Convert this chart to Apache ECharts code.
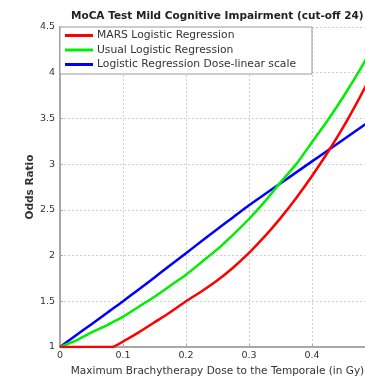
<!DOCTYPE html>
<html>
<head>
<meta charset="utf-8">
<script src="https://cdn.jsdelivr.net/npm/echarts@6/dist/echarts.min.js"></script>
<style>
  html, body { margin: 0; padding: 0; background: #fff; }
  #chart { width: 365px; height: 380px; }
</style>
</head>
<body>
<div id="chart"></div>
<script>
// Dose (Gy) sample points shared by all three curves
const doses = [0, 0.025, 0.05, 0.075, 0.083, 0.1, 0.125, 0.15, 0.175, 0.2, 0.225, 0.25, 0.275,
               0.3, 0.325, 0.35, 0.375, 0.4, 0.425, 0.45, 0.475, 0.5];

// Odds ratio for each model
const marsOR   = [1, 1, 1, 1, 1, 1.06, 1.16, 1.27, 1.38, 1.5, 1.61, 1.73, 1.87,
                  2.03, 2.21, 2.41, 2.63, 2.87, 3.13, 3.41, 3.72, 4.05];
const usualOR  = [1, 1.07, 1.16, 1.24, 1.27, 1.33, 1.44, 1.55, 1.67, 1.79, 1.93, 2.07, 2.23,
                  2.4, 2.59, 2.8, 3.0, 3.24, 3.48, 3.74, 4.02, 4.32];
const linearOR = [1, 1.125, 1.25, 1.375, 1.415, 1.5, 1.63, 1.76, 1.895, 2.025, 2.16, 2.29, 2.42,
                  2.55, 2.67, 2.79, 2.91, 3.03, 3.15, 3.27, 3.39, 3.51];

const seriesNames = ['MARS Logistic Regression', 'Usual Logistic Regression', 'Logistic Regression Dose-linear scale'];
const seriesColors = ['#ff0000', '#00ee00', '#0000ff'];
const yTicks = ['1', '1.5', '2', '2.5', '3', '3.5', '4', '4.5'];

const pair = (xs, ys) => xs.map((x, i) => [x, ys[i]]);
const values = [marsOR, usualOR, linearOR];

const FONT = 'DejaVu Sans, sans-serif';

const chart = echarts.init(document.getElementById('chart'), null, { renderer: 'canvas' });
chart.setOption({
  animation: false,
  backgroundColor: '#ffffff',
  title: {
    text: 'MoCA Test Mild Cognitive Impairment (cut-off 24)',
    left: 66,
    top: 6,
    textStyle: { fontFamily: FONT, fontSize: 10.5, fontWeight: 'bold', color: '#222' }
  },
  legend: {
    orient: 'vertical',
    left: 60,
    top: 27,
    data: seriesNames,
    icon: 'rect',
    itemWidth: 28,
    itemHeight: 3,
    itemGap: 1.5,
    padding: [2, 16, 3, 5],
    backgroundColor: '#ffffff',
    borderColor: '#9a9a9a',
    borderWidth: 1,
    borderRadius: 0,
    textStyle: { fontFamily: FONT, fontSize: 10.75, color: '#333', lineHeight: 13, padding: [0, 0, 0, -1] }
  },
  grid: { left: 60, top: 27, width: 315, bottom: 33, outerBoundsMode: 'none', containLabel: false },
  xAxis: {
    type: 'value',
    min: 0,
    max: 0.5,
    interval: 0.1,
    name: 'Maximum Brachytherapy Dose to the Temporale (in Gy)',
    nameLocation: 'middle',
    nameGap: 19,
    nameTextStyle: { fontFamily: FONT, fontSize: 10.5, color: '#333' },
    axisLine: { show: true, lineStyle: { color: '#a8a8a8', width: 2 } },
    axisTick: { show: true, inside: true, length: 3, lineStyle: { color: '#a8a8a8' } },
    axisLabel: {
      fontFamily: FONT, fontSize: 9.5, color: '#333', margin: 4,
      formatter: v => (v === 0 ? '0' : v.toFixed(1))
    },
    splitLine: { show: true, lineStyle: { color: '#cfcfcf', type: [2, 2], width: 1 } }
  },
  yAxis: {
    type: 'value',
    min: 1,
    max: 4.5,
    interval: 0.5,
    name: 'Odds Ratio',
    nameLocation: 'middle',
    nameGap: 24,
    nameMoveOverlap: false,
    nameTextStyle: { fontFamily: FONT, fontSize: 10.5, fontWeight: 'bold', color: '#333' },
    axisLine: { show: true, lineStyle: { color: '#a8a8a8', width: 2 } },
    axisTick: { show: true, inside: true, length: 3, lineStyle: { color: '#a8a8a8' } },
    axisLabel: {
      fontFamily: FONT, fontSize: 9.5, color: '#333', margin: 5,
      formatter: v => yTicks[Math.round((v - 1) / 0.5)] ?? String(v)
    },
    splitLine: { show: true, lineStyle: { color: '#cfcfcf', type: [2, 2], width: 1 } }
  },
  series: seriesNames.map((name, i) => ({
    name,
    type: 'line',
    data: pair(doses, values[i]),
    smooth: 0.2,
    symbol: 'none',
    clip: true,
    color: seriesColors[i],
    lineStyle: { color: seriesColors[i], width: 2.5 },
    z: 3 + (2 - i)
  }))
});
</script>
</body>
</html>
